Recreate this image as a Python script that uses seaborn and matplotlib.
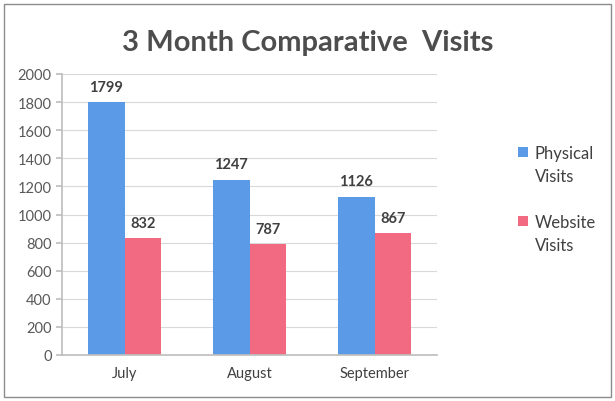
import pandas as pd
import matplotlib
matplotlib.use("Agg")
import matplotlib.pyplot as plt
import seaborn as sns
from matplotlib.patches import Rectangle

# Data
months = ["July", "August", "September"]
physical_visits = [1799, 1247, 1126]
website_visits = [832, 787, 867]
series_names = ["Physical\nVisits", "Website\nVisits"]

df = pd.DataFrame({
    "Month": months * 2,
    "Visits": physical_visits + website_visits,
    "Type": [series_names[0]] * 3 + [series_names[1]] * 3,
})

sns.set_theme(style="white")
plt.rcParams["font.family"] = ["Lato", "DejaVu Sans"]

fig = plt.figure(figsize=(6.15, 4.02), dpi=100)
ax = fig.add_axes([62 / 615, 1 - 356 / 402, 375 / 615, 281 / 402])

palette = ["#5a9ae6", "#f26a82"]
sns.barplot(data=df, x="Month", y="Visits", hue="Type", palette=palette,
            width=0.58, saturation=1, linewidth=0, ax=ax)

for container in ax.containers:
    ax.bar_label(container, padding=6, fontsize=10.5, fontweight="bold", color="#404040")

ax.set_ylim(0, 2000)
ax.set_yticks(range(0, 2001, 200))
ax.set_xlim(-0.5, 2.5)
ax.set_xlabel("")
ax.set_ylabel("")
ax.yaxis.grid(True, color="#d9d9d9", linewidth=0.8)
ax.set_axisbelow(True)
for side in ["top", "right"]:
    ax.spines[side].set_visible(False)
ax.spines["left"].set_color("#bfbfbf")
ax.spines["bottom"].set_color("#bfbfbf")
ax.tick_params(axis="y", labelsize=10.5, colors="#595959", left=True, length=4, color="#bfbfbf")
ax.tick_params(axis="x", labelsize=10.5, colors="#404040", length=0, pad=8)
ax.set_xticks([-0.5, 0.5, 1.5, 2.5], minor=True)
ax.tick_params(axis="x", which="minor", length=5, color="#bfbfbf")

leg = ax.legend(loc="upper left", bbox_to_anchor=(503 / 615, 1 - 131 / 402),
                bbox_transform=fig.transFigure, frameon=False, fontsize=12,
                handlelength=0.6, handleheight=0.6, handletextpad=0.4,
                labelspacing=1.8)
for t in leg.get_texts():
    t.set_color("#404040")
    t.set_linespacing(1.55)
# align the colour squares with the first text line, as in Excel
for h in leg.legend_handles:
    h.set_y(h.get_y() + 9.5)

fig.text(0.5, 1 - 43 / 402, "3 Month Comparative  Visits", ha="center", va="center",
         fontsize=21, fontweight="bold", color="#4d4d4d")

fig.patches.append(Rectangle((4 / 615, 4 / 402), 607 / 615, 393 / 402,
                             transform=fig.transFigure, fill=False,
                             edgecolor="#8c8c8c", linewidth=1))

fig.savefig("out.png", dpi=100)
